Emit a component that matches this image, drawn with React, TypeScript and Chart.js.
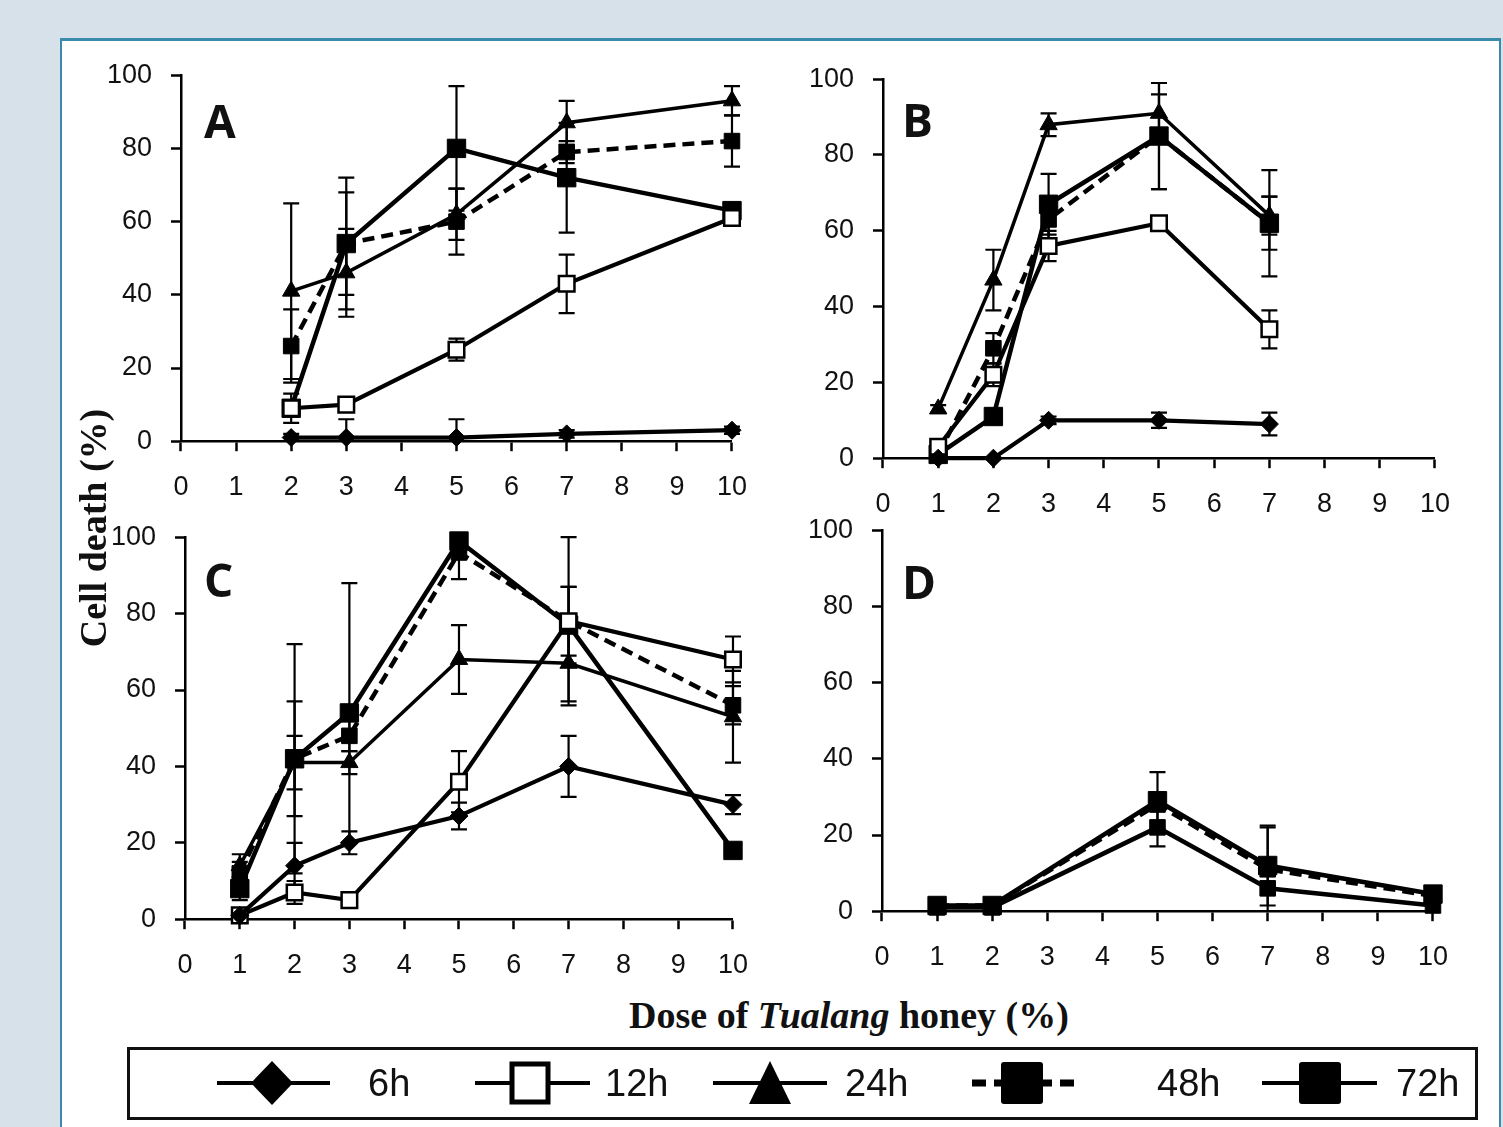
import React, { useEffect, useRef } from "react";
import { Chart, registerables } from "chart.js";

Chart.register(...registerables);

// ---------- data ----------
const doseTicks = [0, 1, 2, 3, 4, 5, 6, 7, 8, 9, 10];
const cellTicks = [0, 20, 40, 60, 80, 100];
const seriesNames = ["6h", "12h", "24h", "48h", "72h"];

// Panel A
const doseA = [2, 3, 5, 7, 10];
const a6h = [1, 1, 1, 2, 3];
const a6hErr = [1, 5, 5, 1, 1];
const a12h = [9, 10, 25, 43, 61];
const a12hErr = [2, 2, 3, 8, 2];
const a24h = [41, 46, 62, 87, 93];
const a24hErr = [24, 12, 7, 6, 4];
const a48h = [26, 54, 60, 79, 82];
const a48hErr = [10, 14, 9, 3, 7];
const a72h = [9, 54, 80, 72, 63];
const a72hErr = [4, 18, 17, 15, 2];

// Panel B
const doseB = [1, 2, 3, 5, 7];
const b6h = [0, 0, 10, 10, 9];
const b6hErr = [0, 0, 1, 2, 3];
const b12h = [3, 22, 56, 62, 34];
const b12hErr = [1, 3, 4, 1, 5];
const b24h = [13, 47, 88, 91, 64];
const b24hErr = [1, 8, 3, 5, 5];
const b48h = [1, 29, 63, 85, 62];
const b48hErr = [1, 4, 5, 14, 7];
const b72h = [1, 11, 67, 85, 62];
const b72hErr = [1, 2, 8, 14, 14];

// Panel C
const doseC = [1, 2, 3, 5, 7, 10];
const c6h = [1, 14, 20, 27, 40, 30];
const c6hErr = [1, 6, 3, 3.5, 8, 2.5];
const c12h = [1, 7, 5, 36, 78, 68];
const c12hErr = [1, 3, 2, 8, 22, 6];
const c24h = [14, 41, 41, 68, 67, 53];
const c24hErr = [3, 7, 3, 9, 10, 12];
const c48h = [12, 42, 48, 96, 78, 56];
const c48hErr = [3, 15, 4, 7, 9, 5];
const c72h = [8, 42, 54, 99, 77, 18];
const c72hErr = [3, 30, 34, 2, 10, 1];

// Panel D
const doseD = [1, 2, 5, 7, 10];
const dLow = [1, 1, 22, 6, 1.5];
const dLowErr = [0, 0, 5, 16, 0];
const d48h = [1.5, 1.5, 28, 11, 4];
const d48hErr = [0, 0, 0, 0, 0];
const d72h = [1.5, 1.5, 29, 12, 4.5];
const d72hErr = [0, 0, 7.5, 10.5, 1];

// ---------- styles / layout ----------
const TICK_FONT = "'Liberation Sans', Arial, sans-serif";
const Y_W = 110;
const X_H = 78;
const PAD_T = 28;
const PAD_R = 34;

const seriesStyle: Record<string, any> = {
  "6h": { pointStyle: "rectRot", pointRadius: 9, pointBackgroundColor: "#000", borderWidth: 4.2, pointBorderWidth: 1 },
  "12h": { pointStyle: "rect", pointRadius: 11, pointBackgroundColor: "#fff", borderWidth: 4.2, pointBorderWidth: 2.5 },
  "24h": { pointStyle: "triangle", pointRadius: 10, pointBackgroundColor: "#000", borderWidth: 3.5, pointBorderWidth: 1 },
  "48h": { pointStyle: "rect", pointRadius: 11, pointBackgroundColor: "#000", borderWidth: 4.5, pointBorderWidth: 1, borderDash: [12, 7] },
  "72h": { pointStyle: "rect", pointRadius: 13, pointBackgroundColor: "#000", borderWidth: 4.5, pointBorderWidth: 1 },
  solidSmall: { pointStyle: "rect", pointRadius: 11, pointBackgroundColor: "#000", borderWidth: 4.5, pointBorderWidth: 1 },
};

type Series = { name: string; dose: number[]; vals: number[]; errs: number[]; styleKey?: string };
type Area = { left: number; top: number; right: number; bottom: number };

const panels: { label: string; area: Area; series: Series[]; labelPos: { left: number; top: number } }[] = [
  {
    label: "A",
    area: { left: 181, top: 75, right: 732, bottom: 441 },
    labelPos: { left: 204, top: 97 },
    series: [
      { name: "6h", dose: doseA, vals: a6h, errs: a6hErr },
      { name: "12h", dose: doseA, vals: a12h, errs: a12hErr },
      { name: "24h", dose: doseA, vals: a24h, errs: a24hErr },
      { name: "48h", dose: doseA, vals: a48h, errs: a48hErr },
      { name: "72h", dose: doseA, vals: a72h, errs: a72hErr },
    ],
  },
  {
    label: "B",
    area: { left: 883, top: 79, right: 1435, bottom: 458 },
    labelPos: { left: 902, top: 96 },
    series: [
      { name: "6h", dose: doseB, vals: b6h, errs: b6hErr },
      { name: "12h", dose: doseB, vals: b12h, errs: b12hErr },
      { name: "24h", dose: doseB, vals: b24h, errs: b24hErr },
      { name: "48h", dose: doseB, vals: b48h, errs: b48hErr },
      { name: "72h", dose: doseB, vals: b72h, errs: b72hErr },
    ],
  },
  {
    label: "C",
    area: { left: 185, top: 537, right: 733, bottom: 919 },
    labelPos: { left: 204, top: 556 },
    series: [
      { name: "6h", dose: doseC, vals: c6h, errs: c6hErr },
      { name: "12h", dose: doseC, vals: c12h, errs: c12hErr },
      { name: "24h", dose: doseC, vals: c24h, errs: c24hErr },
      { name: "48h", dose: doseC, vals: c48h, errs: c48hErr },
      { name: "72h", dose: doseC, vals: c72h, errs: c72hErr },
    ],
  },
  {
    label: "D",
    area: { left: 882, top: 530, right: 1433, bottom: 911 },
    labelPos: { left: 902, top: 558 },
    series: [
      { name: "24h", dose: doseD, vals: dLow, errs: dLowErr, styleKey: "solidSmall" },
      { name: "48h", dose: doseD, vals: d48h, errs: d48hErr },
      { name: "72h", dose: doseD, vals: d72h, errs: d72hErr },
    ],
  },
];

// legend layout: [lineFrom, lineTo, markerCenter, textLeft]
const legendLayout = [
  [217, 330, 272, 368],
  [475, 590, 530, 605],
  [713, 827, 770, 845],
  [972, 1075, 1022, 1157],
  [1262, 1377, 1320, 1396],
];

const errorBarPlugin = {
  id: "errorBars",
  beforeDatasetsDraw(chart: any) {
    const ctx = chart.ctx;
    const xs = chart.scales.x;
    const ys = chart.scales.y;
    ctx.save();
    ctx.strokeStyle = "#000";
    ctx.lineWidth = 2.2;
    ctx.setLineDash([]);
    chart.data.datasets.forEach((ds: any) => {
      const errs: number[] = ds.errors;
      if (!errs) return;
      ds.data.forEach((p: any, i: number) => {
        const e = errs[i];
        if (!e) return;
        const x = xs.getPixelForValue(p.x);
        const hi = Math.min(100, p.y + e);
        const lo = Math.max(0, p.y - e);
        const yTop = ys.getPixelForValue(hi);
        const yBot = ys.getPixelForValue(lo);
        ctx.beginPath();
        ctx.moveTo(x, yTop);
        ctx.lineTo(x, yBot);
        ctx.moveTo(x - 8, yTop);
        ctx.lineTo(x + 8, yTop);
        if (lo > 0) {
          ctx.moveTo(x - 8, yBot);
          ctx.lineTo(x + 8, yBot);
        }
        ctx.stroke();
      });
    });
    ctx.restore();
  },
};

function Panel({ area, series }: { area: Area; series: Series[] }) {
  const ref = useRef<HTMLCanvasElement>(null);
  const w = area.right - area.left + Y_W + PAD_R;
  const h = area.bottom - area.top + PAD_T + X_H;
  useEffect(() => {
    const fit = { xh: X_H, yw: Y_W };
    const datasets = series.map((s) => ({
      label: s.name,
      data: s.dose.map((d, i) => ({ x: d, y: s.vals[i] })),
      errors: s.errs,
      borderColor: "#000",
      pointBorderColor: "#000",
      fill: false,
      tension: 0,
      clip: false,
      ...seriesStyle[s.styleKey || s.name],
    }));
    const axisCommon = {
      ticks: { color: "#111", font: { size: 27, family: TICK_FONT }, padding: 19, maxRotation: 0, autoSkip: false },
      grid: { drawOnChartArea: false, drawTicks: true, tickLength: 10, tickColor: "#000", tickWidth: 2.5 },
      border: { display: true, color: "#000", width: 2.5 },
    };
    const canvas = ref.current as HTMLCanvasElement;
    const chart = new Chart(canvas, {
      type: "line",
      data: { datasets: datasets as any },
      options: {
        animation: false,
        responsive: false,
        events: [],
        layout: { padding: { top: PAD_T, right: PAD_R, left: 0, bottom: 0 }, autoPadding: false },
        plugins: { legend: { display: false }, tooltip: { enabled: false } },
        scales: {
          x: {
            type: "linear",
            min: 0,
            max: 10,
            ...axisCommon,
            ticks: { ...axisCommon.ticks, padding: 20 },
            afterBuildTicks: (s: any) => {
              s.ticks = doseTicks.map((v) => ({ value: v }));
            },
            afterFit: (s: any) => {
              s.height = fit.xh;
            },
          },
          y: {
            type: "linear",
            min: 0,
            max: 100,
            ...axisCommon,
            afterBuildTicks: (s: any) => {
              s.ticks = cellTicks.map((v) => ({ value: v }));
            },
            afterFit: (s: any) => {
              s.width = fit.yw;
            },
          },
        } as any,
      },
      plugins: [errorBarPlugin],
    });
    // make the plotted area match the target box exactly
    const wantH = area.bottom - area.top;
    const wantW = area.right - area.left;
    let ca = chart.chartArea;
    const dh = ca.bottom - ca.top - wantH;
    const dw = ca.right - ca.left - wantW;
    if (Math.abs(dh) > 0.5 || Math.abs(dw) > 0.5) {
      fit.xh += dh;
      fit.yw += dw;
      chart.update();
      ca = chart.chartArea;
    }
    canvas.style.top = area.top - ca.top + "px";
    canvas.style.left = area.left - ca.left + "px";
    return () => chart.destroy();
  }, []);
  return (
    <canvas
      ref={ref}
      width={w}
      height={h}
      style={{ position: "absolute", left: area.left - Y_W, top: area.top - PAD_T, width: w, height: h }}
    />
  );
}

function LegendMarker({ name, cx, cy }: { name: string; cx: number; cy: number }) {
  if (name === "6h") {
    return <polygon points={`${cx},${cy - 22} ${cx + 21},${cy} ${cx},${cy + 22} ${cx - 21},${cy}`} fill="#000" />;
  }
  if (name === "12h") {
    return <rect x={cx - 18} y={cy - 19} width={36} height={38} fill="#fff" stroke="#000" strokeWidth={5} />;
  }
  if (name === "24h") {
    return <polygon points={`${cx},${cy - 22} ${cx + 21},${cy + 21} ${cx - 21},${cy + 21}`} fill="#000" />;
  }
  return <rect x={cx - 21} y={cy - 21} width={42} height={42} rx={3} fill="#000" />;
}

export default function App() {
  const LB = { left: 127, top: 1047, width: 1351, height: 73 };
  const cy = 1083;
  return (
    <div
      style={{
        position: "absolute",
        left: 0,
        top: 0,
        width: 1503,
        height: 1127,
        overflow: "hidden",
        background: "#d7e1e9",
      }}
    >
      <div
        style={{
          position: "absolute",
          left: 60,
          top: 38,
          width: 1441,
          height: 1120,
          background: "#fff",
          borderLeft: "2px solid #3a8aab",
          borderTop: "3px solid #3a8aab",
          borderRight: "2px solid #3a8aab",
          boxSizing: "border-box",
        }}
      />
      {panels.map((p) => (
        <Panel key={p.label} area={p.area} series={p.series} />
      ))}
      {panels.map((p) => (
        <div
          key={"l" + p.label}
          style={{
            position: "absolute",
            left: p.labelPos.left,
            top: p.labelPos.top,
            fontFamily: "'Open Sans', sans-serif",
            fontWeight: 700,
            fontSize: 46,
            lineHeight: "46px",
            color: "#111",
          }}
        >
          {p.label}
        </div>
      ))}
      <div
        style={{
          position: "absolute",
          left: 93,
          top: 528,
          transform: "translate(-50%, -50%) rotate(-90deg)",
          whiteSpace: "nowrap",
          fontFamily: "'Liberation Serif', 'Times New Roman', serif",
          fontWeight: 700,
          fontSize: 38,
          lineHeight: "40px",
          color: "#111",
        }}
      >
        Cell death (%)
      </div>
      <div
        style={{
          position: "absolute",
          left: 849,
          top: 1015,
          transform: "translate(-50%, -50%)",
          whiteSpace: "nowrap",
          fontFamily: "'Liberation Serif', 'Times New Roman', serif",
          fontWeight: 700,
          fontSize: 38,
          lineHeight: "40px",
          color: "#111",
        }}
      >
        Dose of <i>Tualang</i> honey (%)
      </div>
      <div
        style={{
          position: "absolute",
          left: LB.left,
          top: LB.top,
          width: LB.width,
          height: LB.height,
          border: "3px solid #111",
          boxSizing: "border-box",
        }}
      />
      <svg style={{ position: "absolute", left: 0, top: 0 }} width={1503} height={1127}>
        {seriesNames.map((n, i) => {
          const [x0, x1, mc] = legendLayout[i];
          return (
            <g key={n}>
              <line
                x1={x0}
                x2={x1}
                y1={cy}
                y2={cy}
                stroke="#000"
                strokeWidth={n === "48h" ? 7 : 4}
                strokeDasharray={n === "48h" ? "14 8" : undefined}
              />
              <LegendMarker name={n} cx={mc} cy={cy} />
            </g>
          );
        })}
      </svg>
      {seriesNames.map((n, i) => (
        <div
          key={"t" + n}
          style={{
            position: "absolute",
            left: legendLayout[i][3],
            top: cy - 19,
            fontFamily: "'Liberation Sans', Arial, sans-serif",
            fontSize: 38,
            lineHeight: "38px",
            color: "#111",
            whiteSpace: "nowrap",
          }}
        >
          {n}
        </div>
      ))}
    </div>
  );
}
